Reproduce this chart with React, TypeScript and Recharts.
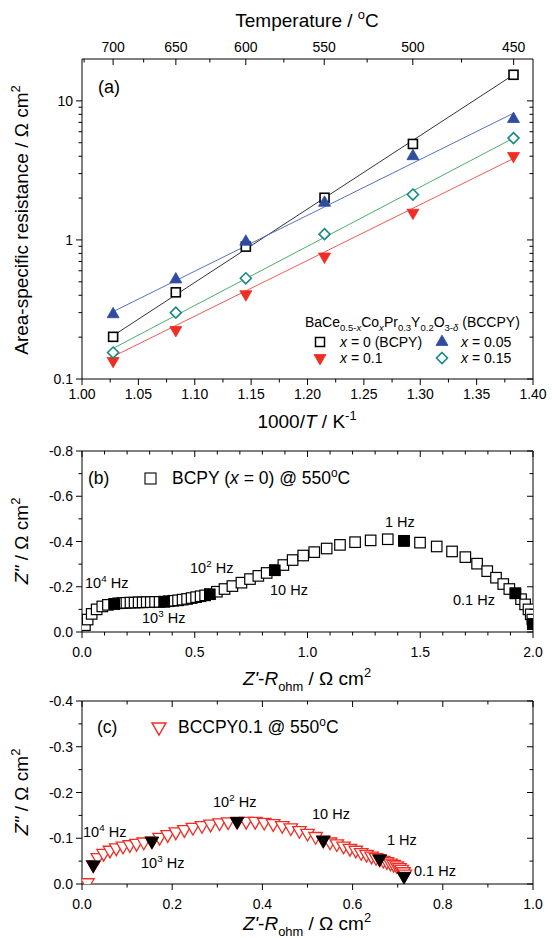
import React from 'react';
import { ScatterChart, Scatter, XAxis, YAxis } from 'recharts';

const FONT = '"Liberation Sans", Arial, Helvetica, sans-serif';

// ---------------- Panel (a): ASR vs 1000/T ----------------
const tempsC = [700, 650, 600, 550, 500, 450];
const invT = [1.0276, 1.0832, 1.1453, 1.2151, 1.2935, 1.3827];
const asrX0 = [0.201, 0.42, 0.895, 2.01, 4.9, 15.4];
const asrX005 = [0.292, 0.52, 0.97, 1.85, 4.0, 7.4];
const asrX01 = [0.135, 0.225, 0.407, 0.76, 1.57, 4.02];
const asrX015 = [0.155, 0.3, 0.53, 1.1, 2.12, 5.4];
const fitInvT = [1.0276, 1.3827];
const fitX0 = [0.205, 15.4];
const fitX005 = [0.305, 8.15];
const fitX01 = [0.145, 3.85];
const fitX015 = [0.166, 5.4];
const invTMajor = [1.0, 1.05, 1.1, 1.15, 1.2, 1.25, 1.3, 1.35, 1.4];
const invTMinor = [1.025, 1.075, 1.125, 1.175, 1.225, 1.275, 1.325, 1.375];
const tempMajor = [700, 650, 600, 550, 500, 450];
const tempMinor = [725, 675, 625, 575, 525, 475];
const asrMajor = [0.1, 1, 10];
const asrMinor = [0.2, 0.3, 0.4, 0.5, 0.6, 0.7, 0.8, 0.9, 2, 3, 4, 5, 6, 7, 8, 9];

// ---------------- Panel (b): BCPY impedance ----------------
const bZre = [0.013, 0.025, 0.043, 0.065, 0.09, 0.115, 0.143, 0.161, 0.179, 0.197, 0.215, 0.233, 0.251, 0.269, 0.287, 0.305, 0.324, 0.344, 0.365, 0.385, 0.405, 0.426, 0.446, 0.466, 0.486, 0.506, 0.526, 0.546, 0.567, 0.598, 0.632, 0.667, 0.707, 0.745, 0.782, 0.819, 0.855, 0.893, 0.934, 0.981, 1.03, 1.085, 1.144, 1.211, 1.28, 1.356, 1.428, 1.499, 1.573, 1.641, 1.7, 1.752, 1.797, 1.836, 1.868, 1.895, 1.922, 1.947, 1.965, 1.98, 1.99, 1.997, 2.0];
const bZim = [-0.03, -0.055, -0.08, -0.1, -0.113, -0.12, -0.124, -0.127, -0.128, -0.129, -0.13, -0.13, -0.131, -0.131, -0.132, -0.132, -0.133, -0.133, -0.134, -0.136, -0.138, -0.14, -0.143, -0.146, -0.15, -0.154, -0.158, -0.162, -0.167, -0.178, -0.19, -0.203, -0.218, -0.234, -0.248, -0.261, -0.273, -0.296, -0.318, -0.338, -0.353, -0.369, -0.385, -0.397, -0.405, -0.41, -0.403, -0.395, -0.378, -0.356, -0.331, -0.302, -0.269, -0.24, -0.212, -0.19, -0.171, -0.145, -0.122, -0.1, -0.078, -0.055, -0.035];
const bMarkZre = [0.143, 0.365, 0.567, 0.855, 1.428, 1.922, 2.0];
const bMarkZim = [-0.124, -0.134, -0.167, -0.273, -0.403, -0.171, -0.035];
const bXMajor = [0, 0.5, 1, 1.5, 2];
const bXMinor = [0.1, 0.2, 0.3, 0.4, 0.6, 0.7, 0.8, 0.9, 1.1, 1.2, 1.3, 1.4, 1.6, 1.7, 1.8, 1.9];
const bYMajor = [-0.8, -0.6, -0.4, -0.2, 0];
const bYMinor = [-0.7, -0.5, -0.3, -0.1];

// ---------------- Panel (c): BCCPY0.1 impedance ----------------
const cZre = [0.012, 0.025, 0.035, 0.048, 0.062, 0.076, 0.091, 0.106, 0.121, 0.137, 0.155, 0.172, 0.19, 0.208, 0.227, 0.246, 0.266, 0.285, 0.305, 0.324, 0.344, 0.364, 0.384, 0.404, 0.424, 0.444, 0.463, 0.482, 0.5, 0.518, 0.535, 0.55, 0.565, 0.58, 0.594, 0.607, 0.619, 0.631, 0.642, 0.652, 0.66, 0.668, 0.676, 0.684, 0.691, 0.698, 0.704, 0.709, 0.713, 0.716];
const cZim = [-0.003, -0.042, -0.058, -0.067, -0.074, -0.079, -0.083, -0.086, -0.089, -0.092, -0.094, -0.102, -0.108, -0.114, -0.119, -0.124, -0.128, -0.131, -0.134, -0.136, -0.137, -0.137, -0.137, -0.135, -0.132, -0.128, -0.123, -0.117, -0.111, -0.104, -0.096, -0.092, -0.088, -0.083, -0.078, -0.074, -0.069, -0.065, -0.061, -0.058, -0.055, -0.052, -0.049, -0.046, -0.043, -0.04, -0.036, -0.032, -0.027, -0.022];
const cMarkZre = [0.025, 0.155, 0.344, 0.535, 0.66, 0.714];
const cMarkZim = [-0.042, -0.094, -0.137, -0.096, -0.055, -0.017];
const cXMajor = [0, 0.2, 0.4, 0.6, 0.8, 1.0];
const cXMinor = [0.1, 0.3, 0.5, 0.7, 0.9];
const cYMajor = [-0.4, -0.3, -0.2, -0.1, 0];
const cYMinor = [-0.35, -0.25, -0.15, -0.05];

// ---------------- helpers ----------------
const zip = (xs: number[], ys: number[]) => xs.map((x, i) => ({ x, y: ys[i] }));
const near = (arr: number[]) => (v: number) => arr.some((m) => Math.abs(m - v) < 1e-6);
const tempPos = tempMajor.map((T) => 1000 / (T + 273.15));
const tempMinorPos = tempMinor.map((T) => 1000 / (T + 273.15));

type Side = 'bottom' | 'left' | 'top' | 'right';
function mkTick(side: Side, isMajor: (v: number) => boolean, fmt: ((v: number) => string | null) | null, off: number) {
  return (props: any) => {
    const { x, y, payload } = props;
    const v = Number(payload?.value);
    const major = isMajor(v);
    const L = major ? 6 : 3.5;
    const lab = major && fmt ? fmt(v) : null;
    let line: any = null;
    let text: any = null;
    const tp = { fontFamily: FONT, fontSize: 14, fill: '#000' };
    if (side === 'bottom') {
      line = <line x1={x} y1={y} x2={x} y2={y + L} stroke="#000" strokeWidth={1} />;
      if (lab) text = <text x={x} y={y + off} textAnchor="middle" {...tp}>{lab}</text>;
    } else if (side === 'top') {
      line = <line x1={x} y1={y} x2={x} y2={y + L} stroke="#000" strokeWidth={1} />;
      if (lab) text = <text x={x} y={y - off} textAnchor="middle" {...tp}>{lab}</text>;
    } else if (side === 'left') {
      line = <line x1={x} y1={y} x2={x - L} y2={y} stroke="#000" strokeWidth={1} />;
      if (lab) text = <text x={x - off} y={y + 5} textAnchor="end" {...tp}>{lab}</text>;
    } else {
      line = <line x1={x} y1={y} x2={x - L} y2={y} stroke="#000" strokeWidth={1} />;
    }
    return <g>{line}{text}</g>;
  };
}

const axisBase = {
  axisLine: { stroke: '#000', strokeWidth: 1 },
  tickLine: false,
  tickSize: 0,
  tickMargin: 0,
  interval: 0 as const,
  allowDataOverflow: true,
  type: 'number' as const,
};

const squareShape = (s: number, fill: string, stroke: string, sw = 1.2) => (p: any) => (
  <rect x={p.cx - s / 2} y={p.cy - s / 2} width={s} height={s} fill={fill} stroke={stroke} strokeWidth={sw} />
);
const triShape = (s: number, up: boolean, fill: string, stroke: string, sw = 1.2) => (p: any) => {
  const h = s * 0.866;
  const d = up ? 1 : -1;
  const pts = [
    [p.cx, p.cy - (d * 2 * h) / 3],
    [p.cx - s / 2, p.cy + (d * h) / 3],
    [p.cx + s / 2, p.cy + (d * h) / 3],
  ];
  return <polygon points={pts.map((q) => q.join(',')).join(' ')} fill={fill} stroke={stroke} strokeWidth={sw} />;
};
const diamondShape = (s: number, fill: string, stroke: string, sw = 1.5) => (p: any) => (
  <polygon
    points={`${p.cx},${p.cy - s / 2} ${p.cx + s / 2},${p.cy} ${p.cx},${p.cy + s / 2} ${p.cx - s / 2},${p.cy}`}
    fill={fill}
    stroke={stroke}
    strokeWidth={sw}
  />
);
const noShape = () => <g />;

const C_BLUE = '#2f4c9f';
const C_BLUE_L = '#5a6fc6';
const C_RED = '#ee2d24';
const C_RED_L = '#f25a55';
const C_TEAL = '#168a80';
const C_GREEN_L = '#4cae68';

// plot rectangle margins (1px of each side is taken by the 1px-thick axes)
const mg = (top: number, right: number, bottom: number, left: number) => ({ top: top - 1, right: right - 1, bottom: bottom - 1, left: left - 1 });

// ---------------- Panels ----------------
function PanelA() {
  const s0 = zip(invT, asrX0);
  const s1 = zip(invT, asrX005);
  const s2 = zip(invT, asrX01);
  const s3 = zip(invT, asrX015);
  return (
    <ScatterChart width={552} height={440} margin={mg(59, 19, 61, 82)}>
      <XAxis xAxisId="b" dataKey="x" orientation="bottom" domain={[1.0, 1.4]} height={1}
        ticks={[...invTMajor, ...invTMinor]} tick={mkTick('bottom', near(invTMajor), (v) => v.toFixed(2), 20)} {...axisBase} />
      <XAxis xAxisId="t" dataKey="x" orientation="top" domain={[1.0, 1.4]} height={1}
        ticks={[...tempPos, ...tempMinorPos]}
        tick={mkTick('top', near(tempPos), (v) => { const i = tempPos.findIndex((p) => Math.abs(p - v) < 1e-6); return i >= 0 ? String(tempMajor[i]) : null; }, 7)} {...axisBase} />
      <YAxis yAxisId="l" dataKey="y" orientation="left" scale="log" domain={[0.1, 20]} width={1}
        ticks={[...asrMajor, ...asrMinor]} tick={mkTick('left', near(asrMajor), (v) => String(v), 9)} {...axisBase} />
      <YAxis yAxisId="r" dataKey="y" orientation="right" scale="log" domain={[0.1, 20]} width={1}
        ticks={[...asrMajor, ...asrMinor]} tick={mkTick('right', near(asrMajor), null, 0)} {...axisBase} />
      <Scatter xAxisId="b" yAxisId="l" data={zip(fitInvT, fitX0)} line={{ stroke: '#333', strokeWidth: 1 }} shape={noShape} isAnimationActive={false} />
      <Scatter xAxisId="b" yAxisId="l" data={zip(fitInvT, fitX005)} line={{ stroke: C_BLUE_L, strokeWidth: 1 }} shape={noShape} isAnimationActive={false} />
      <Scatter xAxisId="b" yAxisId="l" data={zip(fitInvT, fitX01)} line={{ stroke: C_RED_L, strokeWidth: 1 }} shape={noShape} isAnimationActive={false} />
      <Scatter xAxisId="b" yAxisId="l" data={zip(fitInvT, fitX015)} line={{ stroke: C_GREEN_L, strokeWidth: 1 }} shape={noShape} isAnimationActive={false} />
      <Scatter xAxisId="b" yAxisId="l" data={s0} shape={squareShape(9, '#fff', '#000', 1.6)} isAnimationActive={false} />
      <Scatter xAxisId="b" yAxisId="l" data={s1} shape={triShape(12, true, C_BLUE, C_BLUE, 0.8)} isAnimationActive={false} />
      <Scatter xAxisId="b" yAxisId="l" data={s2} shape={triShape(12, false, C_RED, C_RED, 0.8)} isAnimationActive={false} />
      <Scatter xAxisId="b" yAxisId="l" data={s3} shape={diamondShape(11, '#fff', C_TEAL, 1.6)} isAnimationActive={false} />
    </ScatterChart>
  );
}

function PanelB() {
  return (
    <ScatterChart width={552} height={270} margin={mg(21, 19, 68, 82)}>
      <XAxis xAxisId="b" dataKey="x" orientation="bottom" domain={[0, 2]} height={1}
        ticks={[...bXMajor, ...bXMinor]} tick={mkTick('bottom', near(bXMajor), (v) => v.toFixed(1), 25)} {...axisBase} />
      <XAxis xAxisId="t" dataKey="x" orientation="top" domain={[0, 2]} height={1}
        ticks={[...bXMajor, ...bXMinor]} tick={mkTick('top', near(bXMajor), null, 0)} {...axisBase} />
      <YAxis yAxisId="l" dataKey="y" orientation="left" reversed domain={[-0.8, 0]} width={1}
        ticks={[...bYMajor, ...bYMinor]} tick={mkTick('left', near(bYMajor), (v) => (Math.abs(v) < 1e-9 ? '0.0' : v.toFixed(1)), 9)} {...axisBase} />
      <YAxis yAxisId="r" dataKey="y" orientation="right" reversed domain={[-0.8, 0]} width={1}
        ticks={[...bYMajor, ...bYMinor]} tick={mkTick('right', near(bYMajor), null, 0)} {...axisBase} />
      <Scatter xAxisId="b" yAxisId="l" data={zip(bZre, bZim)} shape={squareShape(10.5, '#fff', '#000', 1.2)} isAnimationActive={false} />
      <Scatter xAxisId="b" yAxisId="l" data={zip(bMarkZre, bMarkZim)} shape={squareShape(10.5, '#000', '#000', 1)} isAnimationActive={false} />
    </ScatterChart>
  );
}

function PanelC() {
  return (
    <ScatterChart width={552} height={258} margin={mg(21, 19, 54, 82)}>
      <XAxis xAxisId="b" dataKey="x" orientation="bottom" domain={[0, 1]} height={1}
        ticks={[...cXMajor, ...cXMinor]} tick={mkTick('bottom', near(cXMajor), (v) => v.toFixed(1), 25)} {...axisBase} />
      <XAxis xAxisId="t" dataKey="x" orientation="top" domain={[0, 1]} height={1}
        ticks={[...cXMajor, ...cXMinor]} tick={mkTick('top', near(cXMajor), null, 0)} {...axisBase} />
      <YAxis yAxisId="l" dataKey="y" orientation="left" reversed domain={[-0.4, 0]} width={1}
        ticks={[...cYMajor, ...cYMinor]} tick={mkTick('left', near(cYMajor), (v) => (Math.abs(v) < 1e-9 ? '0.0' : v.toFixed(1)), 9)} {...axisBase} />
      <YAxis yAxisId="r" dataKey="y" orientation="right" reversed domain={[-0.4, 0]} width={1}
        ticks={[...cYMajor, ...cYMinor]} tick={mkTick('right', near(cYMajor), null, 0)} {...axisBase} />
      <Scatter xAxisId="b" yAxisId="l" data={zip(cZre, cZim)} shape={triShape(13.5, false, '#fff', C_RED, 1.3)} isAnimationActive={false} />
      <Scatter xAxisId="b" yAxisId="l" data={zip(cMarkZre, cMarkZim)} shape={triShape(13.5, false, '#000', '#000', 1)} isAnimationActive={false} />
    </ScatterChart>
  );
}

// ---------------- Overlay text ----------------
type Seg = [string, string?];
function Rich({ x, y, segs, size, anchor = 'start', rot = false }: { x: number; y: number; segs: Seg[]; size: number; anchor?: string; rot?: boolean }) {
  let cur = 0;
  const kids = segs.map(([t, f = ''], i) => {
    const sub = f.includes('b');
    const sup = f.includes('p');
    const target = sub ? size * 0.3 : sup ? -size * 0.4 : 0;
    const dy = target - cur;
    cur = target;
    return (
      <tspan key={i} dy={dy} fontSize={sub || sup ? size * 0.68 : size} fontStyle={f.includes('i') ? 'italic' : 'normal'}>
        {t}
      </tspan>
    );
  });
  return (
    <text x={x} y={y} fontFamily={FONT} fontSize={size} fill="#000" textAnchor={anchor as any}
      transform={rot ? `rotate(-90 ${x} ${y})` : undefined}>
      {kids}
    </text>
  );
}

function Overlay() {
  const T = 19;
  const L = 17.5;
  const F = 14.5;
  const sq = (cx: number, cy: number, s: number, fill: string) => (
    <rect x={cx - s / 2} y={cy - s / 2} width={s} height={s} fill={fill} stroke="#000" strokeWidth={1.5} />
  );
  return (
    <svg width={552} height={938} style={{ position: 'absolute', left: 0, top: 0, pointerEvents: 'none' }}>
      {/* Panel (a) */}
      <Rich x={307} y={27} size={T} anchor="middle" segs={[['Temperature / '], ['o', 'p'], ['C']]} />
      <Rich x={28} y={220} size={T} anchor="middle" rot segs={[['Area-specific resistance / Ω cm'], ['2', 'p']]} />
      <Rich x={307} y={428} size={T} anchor="middle" segs={[['1000/'], ['T', 'i'], [' / K'], ['-1', 'p']]} />
      <Rich x={98} y={93} size={18} segs={[['(a)']]} />
      <Rich x={305} y={326.5} size={14} segs={[['BaCe'], ['0.5-', 'b'], ['x', 'bi'], ['Co'], ['x', 'bi'], ['Pr'], ['0.3', 'b'], ['Y'], ['0.2', 'b'], ['O'], ['3-', 'b'], ['δ', 'bi'], [' (BCCPY)']]} />
      {sq(320, 342, 9, '#fff')}
      <Rich x={340} y={346.7} size={14} segs={[['x', 'i'], [' = 0 (BCPY)']]} />
      {triShape(12, true, C_BLUE, C_BLUE, 0.8)({ cx: 442, cy: 342 })}
      <Rich x={461} y={346.7} size={14} segs={[['x', 'i'], [' = 0.05']]} />
      {triShape(12, false, C_RED, C_RED, 0.8)({ cx: 320, cy: 358 })}
      <Rich x={340} y={363} size={14} segs={[['x', 'i'], [' = 0.1']]} />
      {diamondShape(11, '#fff', C_TEAL, 1.6)({ cx: 442, cy: 358 })}
      <Rich x={461} y={363} size={14} segs={[['x', 'i'], [' = 0.15']]} />

      {/* Panel (b) */}
      <Rich x={28} y={541} size={T} anchor="middle" rot segs={[["Z''", 'i'], [' / Ω cm'], ['2', 'p']]} />
      <Rich x={307} y={685} size={T} anchor="middle" segs={[["Z'", 'i'], ['-'], ['R', 'i'], ['ohm', 'b'], [' / Ω cm'], ['2', 'p']]} />
      <Rich x={88} y={484} size={L} segs={[['(b)']]} />
      <rect x={145} y={473} width={11} height={11} fill="#fff" stroke="#000" strokeWidth={1.1} />
      <Rich x={172} y={484} size={L} segs={[['BCPY ('], ['x', 'i'], [' = 0) @ 550'], ['o', 'p'], ['C']]} />
      <Rich x={85} y={588} size={F} segs={[['10'], ['4', 'p'], [' Hz']]} />
      <Rich x={142} y={623} size={F} segs={[['10'], ['3', 'p'], [' Hz']]} />
      <Rich x={190} y={573} size={F} segs={[['10'], ['2', 'p'], [' Hz']]} />
      <Rich x={270} y={595} size={F} segs={[['10 Hz']]} />
      <Rich x={385} y={527} size={F} segs={[['1 Hz']]} />
      <Rich x={453} y={605} size={F} segs={[['0.1 Hz']]} />

      {/* Panel (c) */}
      <Rich x={28} y={792} size={T} anchor="middle" rot segs={[["Z''", 'i'], [' / Ω cm'], ['2', 'p']]} />
      <Rich x={307} y={930} size={T} anchor="middle" segs={[["Z'", 'i'], ['-'], ['R', 'i'], ['ohm', 'b'], [' / Ω cm'], ['2', 'p']]} />
      <Rich x={97} y={733} size={L} segs={[['(c)']]} />
      {triShape(14, false, '#fff', C_RED, 1.4)({ cx: 159, cy: 727 })}
      <Rich x={178} y={733} size={L} segs={[['BCCPY0.1 @ 550'], ['o', 'p'], ['C']]} />
      <Rich x={83} y={837} size={F} segs={[['10'], ['4', 'p'], [' Hz']]} />
      <Rich x={141} y={868} size={F} segs={[['10'], ['3', 'p'], [' Hz']]} />
      <Rich x={213} y={807} size={F} segs={[['10'], ['2', 'p'], [' Hz']]} />
      <Rich x={312} y={819} size={F} segs={[['10 Hz']]} />
      <Rich x={387} y={845} size={F} segs={[['1 Hz']]} />
      <Rich x={414} y={876} size={F} segs={[['0.1 Hz']]} />
    </svg>
  );
}

export default function App() {
  return (
    <div style={{ position: 'absolute', left: 0, top: 0, width: 552, height: 938, background: '#fff', overflow: 'hidden' }}>
      <div style={{ position: 'absolute', left: 0, top: 0 }}><PanelA /></div>
      <div style={{ position: 'absolute', left: 0, top: 430 }}><PanelB /></div>
      <div style={{ position: 'absolute', left: 0, top: 680 }}><PanelC /></div>
      <Overlay />
    </div>
  );
}
